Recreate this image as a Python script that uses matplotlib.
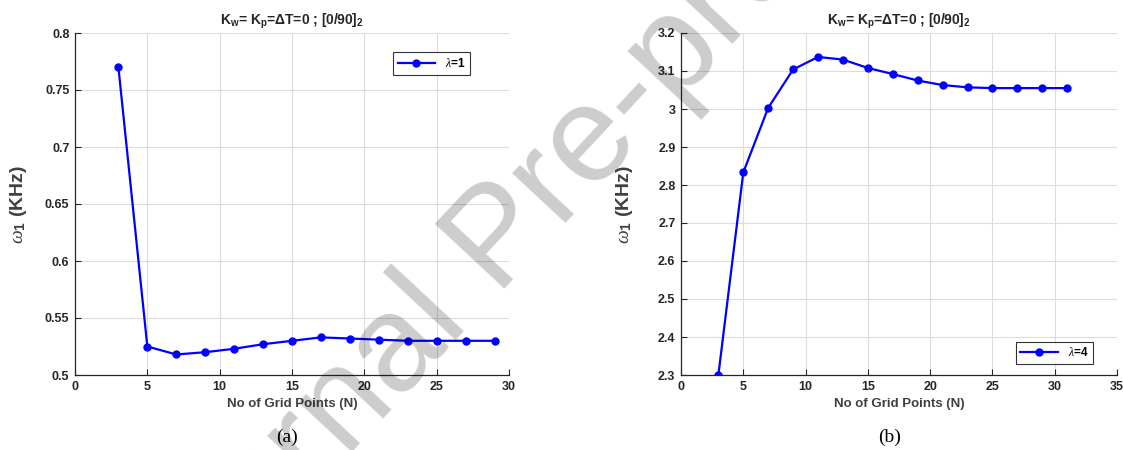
import numpy as np
import matplotlib
matplotlib.use('Agg')
import matplotlib.pyplot as plt

# convergence of the first natural frequency with the number of grid points
n_a = [3, 5, 7, 9, 11, 13, 15, 17, 19, 21, 23, 25, 27, 29]
w_a = [0.770, 0.525, 0.518, 0.520, 0.523, 0.527, 0.530, 0.533, 0.532,
       0.531, 0.530, 0.530, 0.530, 0.530]

n_b = [3, 5, 7, 9, 11, 13, 15, 17, 19, 21, 23, 25, 27, 29, 31]
w_b = [2.300, 2.833, 3.003, 3.104, 3.137, 3.130, 3.108, 3.092, 3.075,
       3.063, 3.057, 3.055, 3.055, 3.055, 3.055]

yticks_a = [0.5, 0.55, 0.6, 0.65, 0.7, 0.75, 0.8]
ytick_labels_a = ['0.5', '0.55', '0.6', '0.65', '0.7', '0.75', '0.8']
yticks_b = [2.3, 2.4, 2.5, 2.6, 2.7, 2.8, 2.9, 3.0, 3.1, 3.2]
ytick_labels_b = ['2.3', '2.4', '2.5', '2.6', '2.7', '2.8', '2.9', '3', '3.1', '3.2']

plt.rcParams['font.family'] = ['Liberation Sans', 'DejaVu Sans']
plt.rcParams['mathtext.fontset'] = 'custom'
plt.rcParams['mathtext.bf'] = 'Liberation Sans:bold'
plt.rcParams['mathtext.rm'] = 'Liberation Sans:bold'
plt.rcParams['mathtext.it'] = 'Liberation Serif:italic'

dark = '#262626'
title_txt = r'K$_\mathbf{w}$= K$_\mathbf{p}$=$\Delta$T=0 ; [0/90]$_\mathbf{2}$'


#one panel of the figure
def conv_plot(ax, x, y, xlim, ylim, xt, yt, ytl, leg_label, leg_anchor, leg_loc):
    ax.plot(x, y, color='#0000ff', lw=1.6, marker='o', markersize=5,
            label=leg_label, zorder=3)
    ax.set_xlim(*xlim)
    ax.set_ylim(*ylim)
    ax.set_xticks(xt)
    ax.set_yticks(yt)
    ax.set_yticklabels(ytl)
    ax.grid(True, color='#dcdcdc', lw=0.8)
    ax.set_axisbelow(True)
    for s in ['top', 'right']:
        ax.spines[s].set_visible(False)
    for s in ['left', 'bottom']:
        ax.spines[s].set_color(dark)
        ax.spines[s].set_linewidth(0.9)
    ax.tick_params(direction='in', length=4, width=0.8, colors=dark,
                   labelsize=9, pad=4)
    for lab in ax.get_xticklabels() + ax.get_yticklabels():
        lab.set_fontweight('bold')
    ax.set_title(title_txt, fontsize=10, fontweight='bold', color=dark, pad=6)
    ax.set_xlabel('No of Grid Points (N)', fontsize=9.5, fontweight='bold',
                  color='#404040', labelpad=4)
    ax.set_ylabel(r'$\omega_\mathbf{1}$ (KHz)', fontsize=14, fontweight='bold',
                  color='#404040')
    ax.yaxis.set_label_coords(-0.105, 0.5)
    leg = ax.legend(loc=leg_loc, bbox_to_anchor=leg_anchor,
                    prop={'weight': 'bold', 'size': 8.5},
                    frameon=True, fancybox=False, edgecolor='black',
                    handlelength=3.2, borderpad=0.4, borderaxespad=0)
    leg.get_frame().set_linewidth(0.8)


fig = plt.figure(figsize=(11.24, 4.5), dpi=100)
ax1 = fig.add_axes([75 / 1124, 75 / 450, 434 / 1124, 342 / 450])
ax2 = fig.add_axes([681 / 1124, 75 / 450, 436 / 1124, 342 / 450])

conv_plot(ax1, n_a, w_a, (0, 30), (0.5, 0.8), range(0, 31, 5),
          yticks_a, ytick_labels_a, r'$\lambda$=1', (0.910, 0.944), 'upper right')
conv_plot(ax2, n_b, w_b, (0, 35), (2.3, 3.2), range(0, 36, 5),
          yticks_b, ytick_labels_b, r'$\lambda$=4', (0.945, 0.032), 'lower right')

fig.text(287 / 1124, 1 - 437 / 450, '(a)', family='Liberation Serif',
         fontsize=14, ha='center', va='center')
fig.text(890 / 1124, 1 - 437 / 450, '(b)', family='Liberation Serif',
         fontsize=14, ha='center', va='center')

# diagonal watermark over the figure
fig.text(500 / 1124, 1 - 241 / 450, 'Journal Pre-proof', fontsize=99,
         color='black', alpha=0.2, rotation=47, ha='center', va='center',
         rotation_mode='anchor', zorder=10)

fig.savefig('out.png', dpi=100)
